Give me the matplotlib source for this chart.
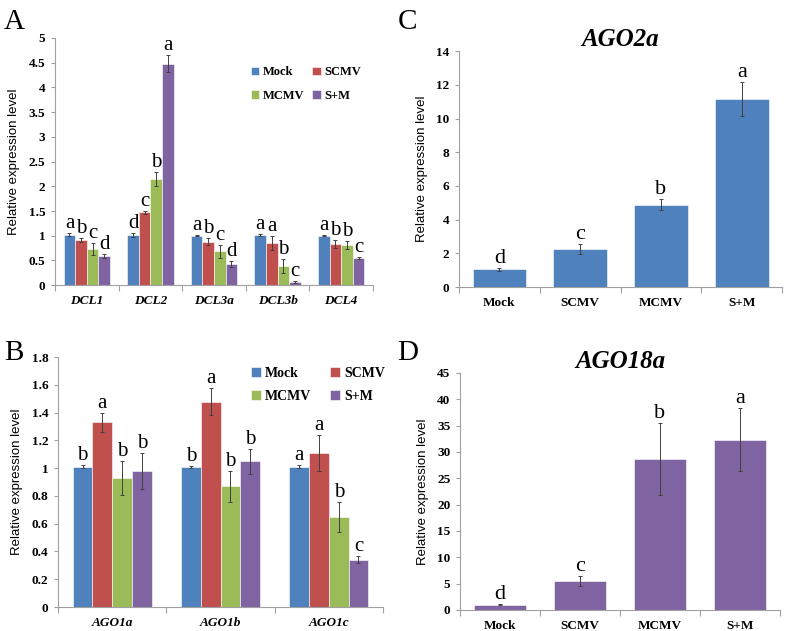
import numpy as np
import matplotlib
matplotlib.use('Agg')
from matplotlib import pyplot as plt

# ---- data ----
treatments = ['Mock', 'SCMV', 'MCMV', 'S+M']
colors = ['#4F81BD', '#C0504D', '#9BBB59', '#8064A2']

dcl_genes = ['DCL1', 'DCL2', 'DCL3a', 'DCL3b', 'DCL4']
dcl_mean = [[1.02, 1.02, 1.00, 1.01, 1.00],
            [0.92, 1.47, 0.88, 0.85, 0.84],
            [0.73, 2.15, 0.69, 0.38, 0.81],
            [0.59, 4.48, 0.42, 0.06, 0.55]]
dcl_err = [[0.03, 0.04, 0.01, 0.02, 0.01],
           [0.04, 0.04, 0.07, 0.14, 0.08],
           [0.12, 0.14, 0.13, 0.14, 0.08],
           [0.05, 0.18, 0.06, 0.02, 0.03]]
dcl_letters = [['a', 'd', 'a', 'a', 'a'],
               ['b', 'c', 'b', 'a', 'b'],
               ['c', 'b', 'c', 'b', 'b'],
               ['d', 'a', 'd', 'c', 'c']]

ago1_genes = ['AGO1a', 'AGO1b', 'AGO1c']
ago1_mean = [[1.01, 1.01, 1.01],
             [1.33, 1.48, 1.11],
             [0.93, 0.87, 0.65],
             [0.98, 1.05, 0.34]]
ago1_err = [[0.01, 0.005, 0.01],
            [0.07, 0.10, 0.13],
            [0.12, 0.11, 0.11],
            [0.13, 0.09, 0.025]]
ago1_letters = [['b', 'b', 'a'],
                ['a', 'a', 'a'],
                ['b', 'b', 'b'],
                ['b', 'b', 'c']]

ago2a_mean = [1.05, 2.28, 4.90, 11.15]
ago2a_err = [0.10, 0.30, 0.30, 1.02]
ago2a_letters = ['d', 'c', 'b', 'a']

ago18a_mean = [1.0, 5.5, 28.6, 32.3]
ago18a_err = [0.1, 1.0, 6.8, 6.0]
ago18a_letters = ['d', 'c', 'b', 'a']

SERIF = 'Liberation Serif'
SANS = 'Liberation Sans'
AXCOL = '#A0A0A0'


def style_axes(ax, ymax, ystep, fmt):
    for s in ['top', 'right']:
        ax.spines[s].set_visible(False)
    for s in ['left', 'bottom']:
        ax.spines[s].set_color(AXCOL)
        ax.spines[s].set_linewidth(0.8)
    ax.set_ylim(0, ymax)
    ticks = np.arange(0, ymax + ystep / 2, ystep)
    ax.set_yticks(ticks)
    ax.set_yticklabels([fmt(t) for t in ticks], fontfamily=SERIF,
                       fontweight='bold', fontsize=9.5)
    ax.tick_params(axis='y', length=3, color=AXCOL, width=0.8, pad=4)
    ax.set_ylabel('Relative expression level', fontfamily=SANS, fontsize=9.5,
                  labelpad=6)


def num_fmt(t):
    return ('%g' % round(t, 2))


def grouped(ax, genes, mean, err, letters, ymax, ystep, lsize):
    n = len(genes)
    x = np.arange(n)
    w = 0.727 / 4
    for i in range(4):
        xs = x - 0.3635 + w * (i + 0.5)
        ax.bar(xs, mean[i], w, color=colors[i], edgecolor='white',
               linewidth=0.4, label=treatments[i], zorder=2)
        ax.errorbar(xs, mean[i], yerr=err[i], fmt='none', ecolor='#404040',
                    elinewidth=0.7, capsize=1.5, capthick=0.7, zorder=3)
        for j in range(n):
            ax.text(xs[j], mean[i][j] + err[i][j], letters[i][j],
                    ha='center', va='bottom', fontfamily=SERIF, fontsize=lsize)
    ax.set_xlim(-0.5, n - 0.5)
    style_axes(ax, ymax, ystep, num_fmt)
    ax.set_xticks(np.arange(-0.5, n, 1.0), minor=False)
    ax.set_xticklabels([])
    ax.set_xticks(x, minor=True)
    ax.set_xticklabels(genes, minor=True, fontfamily=SERIF, fontweight='bold',
                       fontstyle='italic', fontsize=9.5)
    ax.tick_params(axis='x', which='major', length=4, color=AXCOL, width=0.8)
    ax.tick_params(axis='x', which='minor', length=0, pad=7)


def add_legend(ax, anchor, size, spacing, colspace):
    h, l = ax.get_legend_handles_labels()
    # matplotlib fills legend columns first; reorder so rows read Mock SCMV / MCMV S+M
    order = [0, 2, 1, 3]
    ax.legend([h[k] for k in order], [l[k] for k in order], ncol=2,
              loc='upper left', bbox_to_anchor=anchor, frameon=False,
              prop={'family': SERIF, 'weight': 'bold', 'size': size},
              handlelength=0.7, handleheight=0.7, handletextpad=0.3,
              columnspacing=colspace, labelspacing=spacing)


def single(ax, mean, err, letters, color, ymax, ystep, title):
    x = np.arange(4)
    ax.bar(x, mean, 0.66, color=color, edgecolor='white', linewidth=0.4,
           zorder=2)
    ax.errorbar(x, mean, yerr=err, fmt='none', ecolor='#404040',
                elinewidth=0.7, capsize=1.5, capthick=0.7, zorder=3)
    for j in range(4):
        ax.text(x[j], mean[j] + err[j], letters[j], ha='center',
                va='bottom', fontfamily=SERIF, fontsize=16)
    ax.set_xlim(-0.5, 3.5)
    style_axes(ax, ymax, ystep, lambda t: '%d' % t)
    ax.set_xticks(np.arange(-0.5, 4, 1.0))
    ax.set_xticklabels([])
    ax.set_xticks(x, minor=True)
    ax.set_xticklabels(treatments, minor=True, fontfamily=SERIF,
                       fontweight='bold', fontsize=9.5)
    ax.tick_params(axis='x', which='major', length=4, color=AXCOL, width=0.8)
    ax.tick_params(axis='x', which='minor', length=0, pad=7)
    ax.set_title(title, fontdict={'family': SERIF, 'weight': 'bold',
                                  'style': 'italic', 'size': 18}, pad=2)


fig = plt.figure(figsize=(7.87, 6.31), dpi=100)

axA = fig.add_axes([0.0699, 0.548, 0.404, 0.392])
grouped(axA, dcl_genes, dcl_mean, dcl_err, dcl_letters, 5, 0.5, 15)
add_legend(axA, (0.58, 0.93), 9, 0.9, 0.6)

axB = fig.add_axes([0.0737, 0.038, 0.413, 0.396])
grouped(axB, ago1_genes, ago1_mean, ago1_err, ago1_letters, 1.8, 0.2, 15)
add_legend(axB, (0.555, 1.01), 10, 0.7, 1.4)

axC = fig.add_axes([0.583, 0.545, 0.411, 0.374])
single(axC, ago2a_mean, ago2a_err, ago2a_letters, colors[0], 14, 2, 'AGO2a')

axD = fig.add_axes([0.5845, 0.0333, 0.4065, 0.3757])
single(axD, ago18a_mean, ago18a_err, ago18a_letters, colors[3], 45, 5,
       'AGO18a')

for lab, (x, y) in zip('ABCD', [(0.005, 0.965), (0.005, 0.44),
                                (0.505, 0.965), (0.505, 0.44)]):
    fig.text(x, y, lab, fontfamily=SERIF, fontsize=21, va='center')

fig.savefig('out.png', dpi=100)
